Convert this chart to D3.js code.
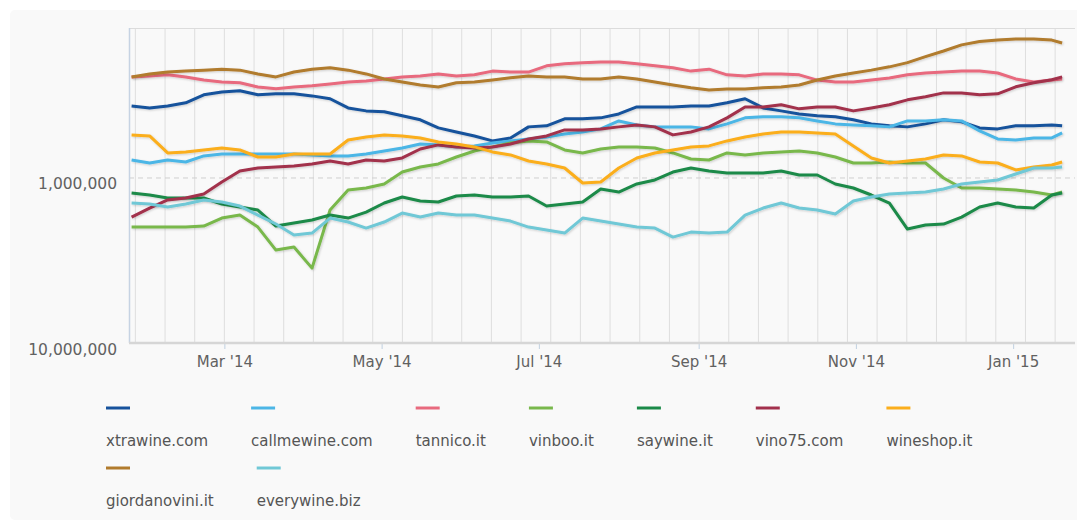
<!DOCTYPE html>
<html>
<head>
<meta charset="utf-8">
<script src="https://cdn.jsdelivr.net/npm/d3@7"></script>
<style>
  body { margin: 0; background: #fff; }
  svg { display: block; font-family: "DejaVu Sans", sans-serif; }
</style>
</head>
<body>
<svg id="chart" width="1077" height="526"></svg>
<script>
// weekly samples of the Alexa traffic rank, values in thousands
const dates = [
  '2014-01-24', '2014-01-31', '2014-02-07', '2014-02-14', '2014-02-21', '2014-02-28',
  '2014-03-07', '2014-03-14', '2014-03-21', '2014-03-28', '2014-04-04', '2014-04-11',
  '2014-04-18', '2014-04-25', '2014-05-02', '2014-05-09', '2014-05-16', '2014-05-23',
  '2014-05-30', '2014-06-06', '2014-06-13', '2014-06-20', '2014-06-27', '2014-07-04',
  '2014-07-11', '2014-07-18', '2014-07-25', '2014-08-01', '2014-08-08', '2014-08-15',
  '2014-08-22', '2014-08-29', '2014-09-05', '2014-09-12', '2014-09-19', '2014-09-26',
  '2014-10-03', '2014-10-10', '2014-10-17', '2014-10-24', '2014-10-31', '2014-11-07',
  '2014-11-14', '2014-11-21', '2014-11-28', '2014-12-05', '2014-12-12', '2014-12-19',
  '2014-12-26', '2015-01-02', '2015-01-09', '2015-01-16', '2015-01-20',
];

const xtrawine = [366, 376, 366, 350, 313, 301, 296, 313, 309, 309, 318, 331, 376, 392, 397, 420, 444, 497, 526, 556, 596, 572, 490, 483, 438, 438, 432, 409, 371, 371, 371, 366, 366, 350, 331, 376, 392, 409, 420, 426, 444, 470, 483, 490, 470, 444, 457, 497, 504, 483, 483, 477, 483];
const callmewine = [778, 811, 778, 800, 735, 715, 715, 715, 715, 715, 725, 735, 735, 715, 686, 658, 622, 630, 648, 639, 613, 596, 580, 564, 541, 526, 504, 451, 477, 490, 490, 490, 504, 470, 432, 426, 426, 432, 451, 470, 477, 483, 490, 451, 451, 444, 451, 518, 580, 588, 572, 572, 533];
const tannico = [244, 241, 237, 244, 255, 262, 265, 281, 288, 281, 276, 269, 262, 258, 251, 244, 241, 234, 241, 237, 225, 228, 228, 209, 203, 200, 198, 198, 203, 209, 215, 225, 219, 237, 241, 234, 234, 237, 255, 262, 262, 255, 248, 237, 231, 228, 225, 225, 231, 251, 262, 255, 251];
const vinboo = [1983, 1983, 1983, 1983, 1956, 1749, 1677, 1983, 2735, 2623, 3517, 1564, 1183, 1150, 1087, 920, 858, 822, 746, 686, 648, 613, 596, 605, 676, 705, 667, 648, 648, 658, 705, 767, 778, 705, 725, 705, 695, 686, 705, 746, 811, 811, 800, 811, 811, 1000, 1150, 1150, 1166, 1183, 1216, 1268, 1216];
const saywine = [1233, 1268, 1322, 1322, 1322, 1438, 1500, 1564, 1956, 1875, 1798, 1677, 1749, 1609, 1418, 1304, 1379, 1398, 1286, 1268, 1304, 1304, 1286, 1479, 1438, 1398, 1166, 1216, 1087, 1028, 920, 870, 907, 933, 933, 933, 907, 959, 959, 1087, 1150, 1268, 1418, 2039, 1928, 1901, 1725, 1500, 1418, 1500, 1521, 1268, 1233];
const vino75 = [1725, 1521, 1359, 1322, 1250, 1057, 907, 870, 858, 846, 822, 789, 822, 778, 789, 756, 667, 630, 648, 658, 648, 622, 580, 556, 511, 511, 504, 490, 477, 490, 548, 526, 490, 432, 371, 371, 360, 381, 371, 371, 392, 376, 360, 336, 322, 305, 305, 313, 309, 280, 265, 254, 244];
const wineshop = [548, 556, 705, 695, 676, 658, 676, 746, 746, 715, 715, 715, 588, 564, 548, 556, 572, 605, 622, 648, 695, 725, 789, 822, 870, 1072, 1057, 870, 756, 705, 676, 648, 639, 596, 564, 541, 526, 526, 533, 541, 639, 756, 811, 789, 767, 725, 735, 800, 811, 894, 858, 834, 800];
const giordanovini = [244, 234, 228, 225, 222, 219, 222, 234, 244, 228, 219, 215, 222, 234, 251, 262, 273, 281, 265, 262, 255, 247, 241, 244, 244, 251, 251, 244, 251, 262, 273, 284, 293, 289, 289, 284, 281, 273, 255, 241, 231, 222, 212, 200, 184, 170, 156, 149, 146, 144, 144, 146, 152];
const everywine = [1418, 1438, 1500, 1438, 1359, 1398, 1479, 1677, 1901, 2218, 2157, 1749, 1849, 2011, 1849, 1631, 1725, 1631, 1677, 1677, 1749, 1824, 1983, 2068, 2157, 1749, 1824, 1901, 1983, 2011, 2281, 2127, 2157, 2127, 1677, 1521, 1418, 1521, 1564, 1654, 1379, 1304, 1250, 1233, 1216, 1166, 1087, 1057, 1028, 946, 870, 870, 858];

const sites = ['xtrawine.com', 'callmewine.com', 'tannico.it', 'vinboo.it', 'saywine.it',
  'vino75.com', 'wineshop.it', 'giordanovini.it', 'everywine.biz'];
const seriesValues = [xtrawine, callmewine, tannico, vinboo, saywine, vino75, wineshop, giordanovini, everywine];
const colours = ['#17529c', '#4cb6e6', '#e86a7e', '#79b84c', '#1b8a48', '#a2304c', '#fbae1c', '#b17b2d', '#70c8d6'];

const yTicks = [1000000, 10000000];

const parse = d3.timeParse('%Y-%m-%d');
const series = sites.map((name, i) => ({
  name,
  colour: colours[i],
  values: seriesValues[i].map((v, j) => ({ date: parse(dates[j]), rank: v * 1000 })),
}));

const plot = { left: 129, right: 1075, top: 28, bottom: 343 };

const x = d3.scaleTime()
  .domain([parse('2014-01-23'), parse('2015-01-25')])
  .range([plot.left, plot.right]);

// inverted log scale: best rank on top
const y = d3.scaleLog()
  .domain([10000000, 123300])
  .range([plot.bottom, plot.top]);

const svg = d3.select('#chart');

// light panel behind the chart
svg.append('rect')
  .attr('x', 10).attr('y', 10)
  .attr('width', 1075).attr('height', 510)
  .attr('rx', 5)
  .style('fill', '#f9f9f9');

// vertical grid lines, evenly spaced
const gridStep = 29.67;
const gridStart = x(parse('2014-03-01'));
svg.append('g')
  .selectAll('line')
  .data(d3.range(-3, 29))
  .join('line')
  .attr('x1', (k) => gridStart + k * gridStep)
  .attr('x2', (k) => gridStart + k * gridStep)
  .attr('y1', plot.top)
  .attr('y2', plot.bottom)
  .style('stroke', '#dedede')
  .style('stroke-width', 1);

// top border
svg.append('line')
  .attr('x1', plot.left).attr('x2', plot.right)
  .attr('y1', plot.top + 0.5).attr('y2', plot.top + 0.5)
  .style('stroke', '#dcdcdc');

// dashed line at 1,000,000
svg.append('line')
  .attr('x1', plot.left).attr('x2', plot.right)
  .attr('y1', y(1000000)).attr('y2', y(1000000))
  .style('stroke', '#cfcfcf')
  .style('stroke-dasharray', '5,4');

// y labels
svg.append('g')
  .selectAll('text')
  .data(yTicks)
  .join('text')
  .attr('x', 117)
  .attr('y', (d) => y(d) + 11.5)
  .attr('text-anchor', 'end')
  .style('font-size', '15.5px')
  .style('fill', '#616161')
  .text(d3.format(','));

// y axis line
svg.append('line')
  .attr('x1', plot.left + 0.5).attr('x2', plot.left + 0.5)
  .attr('y1', plot.top).attr('y2', plot.bottom)
  .style('stroke', '#c6d3e3')
  .style('stroke-width', 1.5);

// x axis
const xAxis = svg.append('g')
  .attr('transform', `translate(0,${plot.bottom})`)
  .call(d3.axisBottom(x)
    .ticks(d3.timeMonth.every(2))
    .tickFormat(d3.timeFormat("%b '%y"))
    .tickSize(6)
    .tickPadding(7));
xAxis.select('.domain').remove();
xAxis.selectAll('.tick line').style('stroke', '#c0d0e0');
xAxis.selectAll('.tick text')
  .style('font-family', '"DejaVu Sans", sans-serif')
  .style('font-size', '15px')
  .style('fill', '#616161');

svg.append('line')
  .attr('x1', plot.left).attr('x2', plot.right)
  .attr('y1', plot.bottom).attr('y2', plot.bottom)
  .style('stroke', '#d6d6d6')
  .style('stroke-width', 2.5);

// series lines
const line = d3.line()
  .x((d) => x(d.date))
  .y((d) => y(d.rank));

const defs = svg.append('defs');
defs.append('filter')
  .attr('id', 'shadow')
  .append('feDropShadow')
  .attr('dx', 1).attr('dy', 1)
  .attr('stdDeviation', 1)
  .attr('flood-opacity', 0.18);

svg.append('g')
  .selectAll('path')
  .data(series)
  .join('path')
  .attr('d', (d) => line(d.values))
  .attr('filter', 'url(#shadow)')
  .style('fill', 'none')
  .style('stroke', (d) => d.colour)
  .style('stroke-width', 3)
  .style('stroke-linejoin', 'round');

// legend: swatch above the label, items wrap onto a second row
const legend = svg.append('g');
let lx = 106;
let ly = 0;
series.forEach((s) => {
  const item = legend.append('g');
  item.append('line')
    .attr('x1', 0).attr('x2', 24)
    .attr('y1', 408).attr('y2', 408)
    .style('stroke', s.colour)
    .style('stroke-width', 3);
  const label = item.append('text')
    .attr('x', 0)
    .attr('y', 446)
    .style('font-size', '15px')
    .style('fill', '#555')
    .text(s.name);
  const w = label.node().getComputedTextLength();
  if (lx + w > 1040) {
    lx = 106;
    ly += 60;
  }
  item.attr('transform', `translate(${lx},${ly})`);
  lx += w + 43;
});
</script>
</body>
</html>
